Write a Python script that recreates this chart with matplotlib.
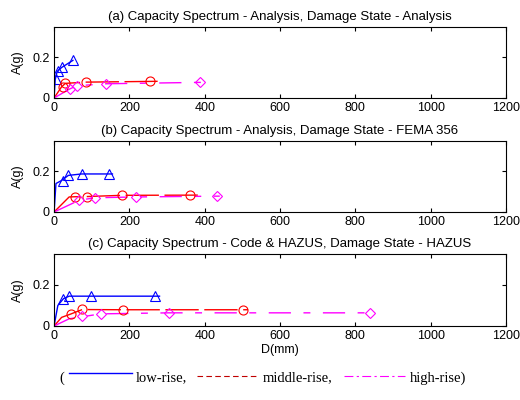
import matplotlib.pyplot as plt
from matplotlib.lines import Line2D

plt.rcParams['font.family'] = 'Liberation Sans'
plt.rcParams['font.size'] = 9

titles = ['(a) Capacity Spectrum - Analysis, Damage State - Analysis',
          '(b) Capacity Spectrum - Analysis, Damage State - FEMA 356',
          '(c) Capacity Spectrum - Code & HAZUS, Damage State - HAZUS']

# capacity curves (D in mm, A in g)
low_curve = [
    ([0, 3, 8, 20, 50], [0, 0.09, 0.13, 0.15, 0.185]),
    ([0, 5, 20, 38, 73, 155], [0, 0.14, 0.155, 0.18, 0.187, 0.187]),
    ([0, 10, 25, 40, 280], [0, 0.10, 0.133, 0.145, 0.145]),
]
mid_curve = [
    ([0, 20, 30, 85, 275], [0, 0.055, 0.072, 0.078, 0.082]),
    ([0, 40, 56, 88, 180, 390], [0, 0.074, 0.075, 0.076, 0.082, 0.083]),
    ([0, 20, 44, 75, 182, 515], [0, 0.042, 0.058, 0.08, 0.079, 0.079]),
]
high_curve = [
    ([0, 41, 60, 138, 395], [0, 0.044, 0.06, 0.07, 0.077]),
    ([0, 67, 109, 218, 440], [0, 0.058, 0.07, 0.074, 0.078]),
    ([0, 40, 75, 124, 306, 845], [0, 0.035, 0.045, 0.059, 0.064, 0.064]),
]

# damage state points
low_pts = [
    ([5, 10, 20, 51], [0.095, 0.135, 0.152, 0.185]),
    ([23, 38, 73, 147], [0.153, 0.18, 0.189, 0.189]),
    ([23, 40, 97, 267], [0.13, 0.145, 0.147, 0.147]),
]
mid_pts = [
    ([23, 28, 85, 256], [0.055, 0.072, 0.077, 0.083]),
    ([56, 88, 180, 360], [0.075, 0.075, 0.083, 0.083]),
    ([44, 75, 182, 503], [0.059, 0.081, 0.078, 0.079]),
]
high_pts = [
    ([41, 60, 138, 388], [0.044, 0.06, 0.069, 0.077]),
    ([67, 109, 218, 432], [0.06, 0.07, 0.075, 0.08]),
    ([75, 124, 306, 839], [0.047, 0.059, 0.064, 0.064]),
]

fig = plt.figure(figsize=(5.2, 4.0), dpi=100)
boxes = [[0.104, 0.755, 0.869, 0.178],
         [0.104, 0.47, 0.869, 0.178],
         [0.104, 0.185, 0.869, 0.18]]

for i in range(3):
    ax = fig.add_axes(boxes[i])
    ax.plot(*low_curve[i], color='blue', lw=1)
    ax.plot(*mid_curve[i], color='red', lw=1, dashes=(24, 4))
    ax.plot(*high_curve[i], color='magenta', lw=1, dashes=(16, 9, 5, 9))
    ax.plot(*low_pts[i], ls='none', marker='^', ms=7, mfc='none', mec='blue', mew=0.8)
    ax.plot(*mid_pts[i], ls='none', marker='o', ms=6.5, mfc='none', mec='red', mew=0.8)
    ax.plot(*high_pts[i], ls='none', marker='D', ms=5, mfc='none', mec='magenta', mew=0.8)
    ax.set_xlim(0, 1200)
    ax.set_ylim(0, 0.35)
    ax.set_xticks(range(0, 1201, 200))
    ax.set_yticks([0, 0.2])
    ax.set_yticklabels(['0', '0.2'])
    ax.tick_params(direction='in', top=True, right=True, length=3, labelsize=9, pad=3)
    ax.set_ylabel('A(g)', fontsize=9, labelpad=6)
    ax.set_title(titles[i], fontsize=9.5, pad=5)
    if i == 2:
        ax.set_xlabel('D(mm)', fontsize=9, labelpad=1)

# bottom legend in Times-like font
ly = 0.055
fig.text(0.115, ly, '(', fontsize=10.5, family='Liberation Serif', va='center')
fig.add_artist(Line2D([0.133, 0.254], [ly + 0.012, ly + 0.012], color='blue', lw=1))
fig.text(0.262, ly, 'low-rise,', fontsize=10.5, family='Liberation Serif', va='center')
fig.add_artist(Line2D([0.379, 0.496], [ly + 0.004, ly + 0.004], color='#c00000', lw=0.8, dashes=(5, 3)))
fig.text(0.506, ly, 'middle-rise,', fontsize=10.5, family='Liberation Serif', va='center')
fig.add_artist(Line2D([0.662, 0.779], [ly + 0.004, ly + 0.004], color='magenta', lw=0.8, dashes=(8, 3, 2, 3)))
fig.text(0.789, ly, 'high-rise)', fontsize=10.5, family='Liberation Serif', va='center')

plt.savefig('out.png', dpi=100)
